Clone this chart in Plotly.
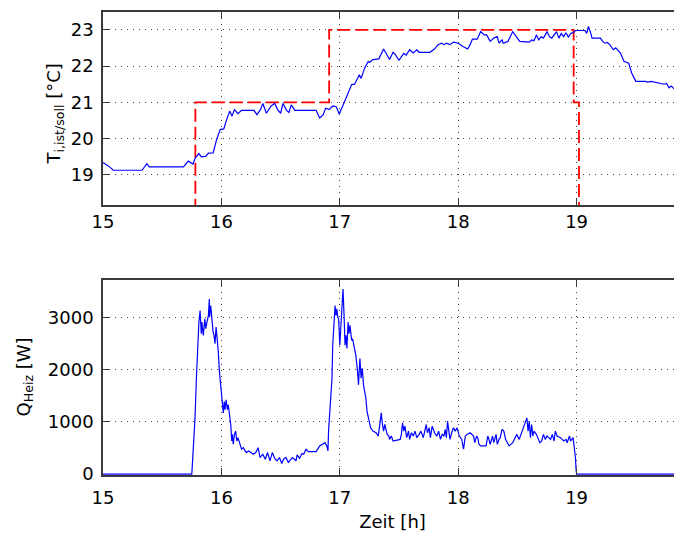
import plotly.graph_objects as go
from plotly.subplots import make_subplots

# Raumtemperatur ist (h, °C)
t_ist = [15.0, 15.045, 15.087, 15.33, 15.37, 15.39, 15.68, 15.72, 15.76, 15.78, 15.81, 15.83,
         15.87, 15.89, 15.93, 15.96, 15.99, 16.02, 16.045, 16.07, 16.09, 16.11, 16.14, 16.17,
         16.275, 16.3, 16.33, 16.35, 16.38, 16.42, 16.45, 16.475, 16.5, 16.52, 16.55, 16.57,
         16.59, 16.62, 16.8, 16.83, 16.86, 16.88, 16.91, 16.94, 16.97, 16.995, 17.03, 17.06,
         17.1, 17.125, 17.165, 17.18, 17.21, 17.24, 17.25, 17.28, 17.33, 17.37, 17.4, 17.42,
         17.45, 17.47, 17.5, 17.54, 17.56, 17.59, 17.62, 17.65, 17.67, 17.76, 17.8, 17.83,
         17.86, 17.88, 17.9, 17.93, 17.96, 18.0, 18.04, 18.08, 18.1, 18.12, 18.16, 18.19,
         18.22, 18.24, 18.27, 18.3, 18.33, 18.345, 18.37, 18.38, 18.42, 18.46, 18.49, 18.52,
         18.6, 18.62, 18.64, 18.66, 18.68, 18.7, 18.72, 18.75, 18.77, 18.79, 18.83, 18.85,
         18.87, 18.89, 18.91, 18.93, 18.95, 18.97, 18.99, 19.07, 19.085, 19.1, 19.12, 19.13,
         19.2, 19.22, 19.24, 19.26, 19.28, 19.31, 19.33, 19.37, 19.4, 19.44, 19.465, 19.5,
         19.58, 19.6, 19.63, 19.68, 19.7, 19.74, 19.76, 19.78, 19.8, 19.83, 19.85, 19.89]
T_ist = [19.34, 19.25, 19.13, 19.13, 19.31, 19.22, 19.22, 19.38, 19.3, 19.47, 19.59, 19.5,
         19.52, 19.6, 19.61, 19.98, 20.25, 20.27, 20.53, 20.76, 20.62, 20.8, 20.69, 20.78,
         20.78, 20.66, 20.8, 20.97, 20.7, 20.9, 20.97, 20.8, 20.7, 20.97, 20.78, 20.72,
         20.93, 20.78, 20.78, 20.57, 20.66, 20.84, 20.8, 20.9, 20.88, 20.68, 20.94, 21.17,
         21.49, 21.5, 21.76, 21.66, 21.95, 22.13, 22.1, 22.18, 22.2, 22.47, 22.3, 22.18,
         22.38, 22.31, 22.16, 22.35, 22.3, 22.45, 22.36, 22.45, 22.38, 22.38, 22.47, 22.59,
         22.63, 22.59, 22.63, 22.59, 22.66, 22.63, 22.54, 22.47, 22.59, 22.74, 22.74, 22.95,
         22.86, 22.86, 22.68, 22.77, 22.81, 22.63, 22.72, 22.63, 22.68, 22.95, 22.81, 22.68,
         22.66, 22.72, 22.7, 22.86, 22.72, 22.81, 22.77, 22.95, 22.81, 22.77, 22.95, 22.77,
         22.9, 22.81, 22.92, 22.8, 22.9, 22.92, 22.98, 22.98, 22.9, 23.09, 22.9, 22.77,
         22.77, 22.68, 22.63, 22.65, 22.59, 22.45, 22.5, 22.36, 22.13, 22.08, 21.81, 21.58,
         21.58, 21.56, 21.58, 21.54, 21.53, 21.5, 21.52, 21.4, 21.45, 21.35, 21.21, 21.19]

# Raumtemperatur soll (step function)
t_soll = [15.78, 15.78, 16.91, 16.91, 18.975, 18.975, 19.02, 19.02]
T_soll = [16.0, 21.0, 21.0, 23.0, 23.0, 21.0, 21.0, 16.0]

# Heizleistung (h, W)
t_q = [15.0, 15.75, 15.763, 15.777, 15.79, 15.80, 15.81, 15.82, 15.83, 15.835, 15.847, 15.86,
       15.868, 15.878, 15.89, 15.898, 15.90, 15.91, 15.92, 15.93, 15.9375, 15.946, 15.955,
       15.966, 15.974, 15.983, 15.99, 16.0, 16.01, 16.016, 16.024, 16.03, 16.04, 16.05, 16.058,
       16.067, 16.08, 16.087, 16.093, 16.1, 16.11, 16.12, 16.13, 16.14, 16.157, 16.17, 16.185,
       16.21, 16.23, 16.25, 16.27, 16.29, 16.31, 16.326, 16.35, 16.37, 16.39, 16.41, 16.43,
       16.45, 16.47, 16.49, 16.51, 16.525, 16.545, 16.565, 16.585, 16.6, 16.63, 16.64, 16.66,
       16.68, 16.695, 16.715, 16.735, 16.80, 16.83, 16.855, 16.875, 16.89, 16.9, 16.905, 16.92,
       16.934, 16.94, 16.95, 16.96, 16.968, 16.975, 16.983, 16.99, 17.0, 17.01, 17.02, 17.027,
       17.036, 17.044, 17.052, 17.06, 17.07, 17.078, 17.086, 17.1, 17.108, 17.118, 17.127,
       17.135, 17.15, 17.158, 17.165, 17.17, 17.18, 17.19, 17.2, 17.21, 17.22, 17.23, 17.247,
       17.26, 17.28, 17.306, 17.325, 17.34, 17.35, 17.36, 17.37, 17.38, 17.4, 17.415, 17.42,
       17.435, 17.45, 17.51, 17.52, 17.53, 17.54, 17.55, 17.565, 17.58, 17.59, 17.605, 17.62,
       17.635, 17.65, 17.67, 17.685, 17.705, 17.72, 17.73, 17.74, 17.755, 17.765, 17.78,
       17.8, 17.82, 17.835, 17.85, 17.865, 17.88, 17.89, 17.9, 17.91, 17.92, 17.93, 17.945,
       17.96, 17.975, 17.99, 18.01, 18.03, 18.045, 18.06, 18.075, 18.1, 18.13, 18.14, 18.155,
       18.165, 18.175, 18.19, 18.235, 18.25, 18.26, 18.27, 18.29, 18.3, 18.32, 18.33, 18.345,
       18.355, 18.37, 18.385, 18.4, 18.415, 18.43, 18.46, 18.48, 18.495, 18.515, 18.53, 18.545,
       18.58, 18.59, 18.6, 18.61, 18.62, 18.63, 18.64, 18.66, 18.675, 18.69, 18.705, 18.72,
       18.735, 18.75, 18.765, 18.78, 18.795, 18.81, 18.82, 18.835, 18.865, 18.89, 18.91, 18.92,
       18.94, 18.95, 18.97, 18.98, 18.99, 18.995, 19.0, 19.89]
q_heiz = [0, 0, 506, 1076, 1898, 2467, 2910, 3131, 2689, 2910, 2657, 2973,
          2784, 2910, 3036, 3353, 3005, 3226, 2879, 2720, 2657, 2499, 2815,
          2562, 2341, 1962, 1773, 1582, 1328, 1170, 1391, 1233, 1423, 1233, 1328,
          1170, 918, 633, 760, 570, 760, 823, 633, 697, 570, 475, 506,
          412, 443, 412, 380, 412, 506, 317, 380, 285, 412, 254, 412,
          300, 254, 317, 203, 285, 317, 222, 285, 317, 254, 368, 300,
          392, 380, 475, 430, 430, 539, 580, 602, 540, 443, 823, 1328,
          1835, 2467, 2910, 3226, 3036, 3163, 3005, 2973, 2467, 2847, 3258, 3543,
          3036, 2467, 2657, 2404, 2910, 2689, 2847, 2562, 2590, 2467, 2404,
          2277, 1962, 1709, 2025, 2214, 1835, 2025, 1709, 1582, 1455, 1202, 1013,
          886, 823, 791, 728, 950, 1171, 950, 823, 950, 760, 728, 664,
          728, 633, 664, 760, 981, 823, 918, 697, 823, 664, 791, 728,
          823, 697, 760, 823, 697, 855, 950, 791, 886, 697, 918,
          791, 728, 823, 664, 760, 728, 855, 697, 1013, 823, 664, 791,
          886, 823, 886, 728, 664, 475, 728, 760, 791, 728, 601, 728,
          697, 570, 539, 539, 728, 664, 570, 728, 601, 760, 570, 664,
          697, 855, 823, 664, 601, 539, 601, 697, 760, 664, 760, 886,
          1076, 823, 1013, 697, 950, 728, 823, 760, 664, 601, 633, 760,
          664, 728, 697, 664, 760, 633, 823, 728, 697, 633, 664, 601,
          728, 633, 697, 539, 317, 95, 0, 0]

font = dict(family="DejaVu Sans, Arial, sans-serif", size=18, color="black")
axis_col = "#3a3a3a"
grid_col = "#444444"

fig = make_subplots(rows=2, cols=1, vertical_spacing=0.16)

fig.add_trace(go.Scatter(x=t_soll, y=T_soll, mode="lines",
                         line=dict(color="#ff0000", width=1.8, dash="13px,5px")),
              row=1, col=1)
fig.add_trace(go.Scatter(x=t_ist, y=T_ist, mode="lines",
                         line=dict(color="#0000ff", width=1.2)),
              row=1, col=1)
fig.add_trace(go.Scatter(x=t_q, y=q_heiz, mode="lines",
                         line=dict(color="#0000ff", width=1.2)),
              row=2, col=1)

# page body adds an 8px offset, so the figure is made a bit smaller
common_x = dict(range=[15, 19.89], tickvals=[15, 16, 17, 18, 19], showline=True,
                linecolor=axis_col, linewidth=1.5, mirror="ticks", ticks="inside",
                ticklen=7, tickcolor=axis_col, showgrid=True, gridcolor=grid_col,
                griddash="1px,5px", gridwidth=1, zeroline=False, tickfont=font)
fig.update_xaxes(**common_x, domain=[0, 1])
fig.update_xaxes(ticklabelstandoff=0, row=1, col=1)
fig.update_xaxes(ticklabelstandoff=6, title=dict(text="Zeit [h]", font=font, standoff=11),
                 row=2, col=1)

common_y = dict(showline=True, linecolor=axis_col, linewidth=1.5, mirror=False,
                ticks="inside", ticklen=7, tickcolor=axis_col, showgrid=True,
                gridcolor=grid_col, griddash="1px,5px", gridwidth=1, zeroline=False,
                tickfont=font, ticklabelstandoff=4)
fig.update_yaxes(**common_y)
fig.update_yaxes(range=[18.17, 23.49], tickvals=[19, 20, 21, 22, 23], domain=[0.583, 1.0],
                 row=1, col=1)
fig.update_yaxes(range=[-18, 3720], tickvals=[0, 1000, 2000, 3000], domain=[0, 0.4215],
                 row=2, col=1)

# y axis titles placed by hand
fig.add_annotation(text="T<sub>i,ist/soll</sub> [°C]", textangle=-90, showarrow=False,
                   xref="x domain", yref="y domain", x=0, y=0.5, xanchor="center",
                   yanchor="middle", xshift=-48, yshift=-6, font=font)
fig.add_annotation(text="Q<sub>Heiz</sub> [W]", textangle=-90, showarrow=False,
                   xref="x2 domain", yref="y2 domain", x=0, y=0.5, xanchor="center",
                   yanchor="middle", xshift=-78, yshift=0, font=font)

fig.update_layout(width=674, height=524, showlegend=False,
                  margin=dict(l=95, r=0, t=4, b=55),
                  paper_bgcolor="white", plot_bgcolor="white", font=font)
fig.write_html("out.html")
